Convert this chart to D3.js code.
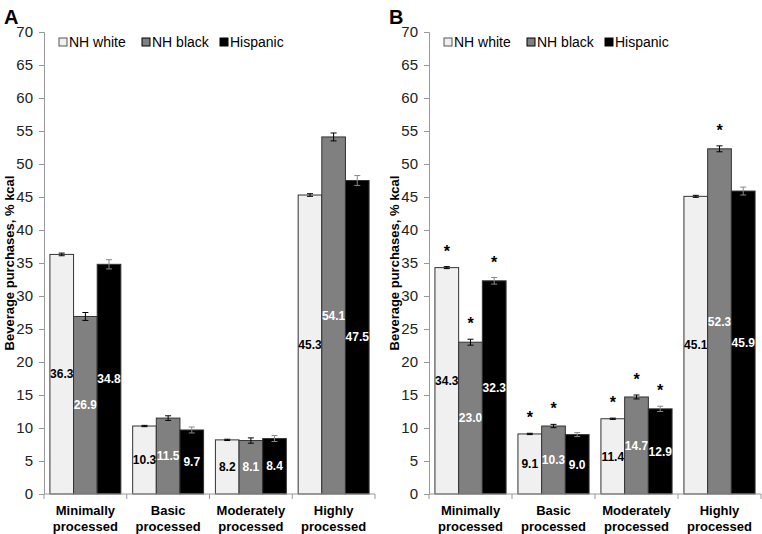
<!DOCTYPE html>
<html lang="en">
<head>
  <meta charset="utf-8">
  <title>Beverage purchases by processing level</title>
  <style>
    body {
      margin: 0;
      background: #fff;
    }
    text {
      font-family: "Liberation Sans", Arial, sans-serif;
    }
    .tick-label {
      font-size: 15px;
      fill: #222;
    }
    .cat-label {
      font-size: 13px;
      font-weight: bold;
    }
    .val {
      font-family: "Liberation Sans Narrow", "Arial Narrow", "Liberation Sans", sans-serif;
      font-size: 12px;
      font-weight: bold;
    }
  </style>
</head>
<body>
  <svg width="762" height="534"></svg>
  <script src="https://cdn.jsdelivr.net/npm/d3@7"></script>
  <script>

  // data
  var categories = [["Minimally", "processed"], ["Basic", "processed"], ["Moderately", "processed"], ["Highly", "processed"]];
  var series = ["NH white", "NH black", "Hispanic"];
  var yTicks = [0, 5, 10, 15, 20, 25, 30, 35, 40, 45, 50, 55, 60, 65, 70];

  // panel A: unadjusted
  var valuesA = [[36.3, 26.9, 34.8], [10.3, 11.5, 9.7], [8.2, 8.1, 8.4], [45.3, 54.1, 47.5]];
  var errorsA = [[0.2, 0.6, 0.7], [0.1, 0.35, 0.45], [0.1, 0.4, 0.45], [0.2, 0.6, 0.75]];
  var starsA = [[0, 0, 0], [0, 0, 0], [0, 0, 0], [0, 0, 0]];

  // panel B: adjusted
  var valuesB = [[34.3, 23.0, 32.3], [9.1, 10.3, 9.0], [11.4, 14.7, 12.9], [45.1, 52.3, 45.9]];
  var errorsB = [[0.15, 0.45, 0.5], [0.1, 0.25, 0.3], [0.1, 0.3, 0.4], [0.15, 0.45, 0.6]];
  var starsB = [[1, 1, 1], [1, 1, 0], [1, 1, 1], [0, 1, 0]];

  var fills = ["#f0f0f0", "#808080", "#000000"];
  var labelColors = ["#000", "#fff", "#fff"];

  var svg = d3.select("svg");

  function panel(letter, x0, x1, values, errors, stars) {
    var g = svg.append("g");

    var y = d3.scaleLinear().domain([0, 70]).range([494, 32]);
    var x = d3.scaleBand().domain(d3.range(categories.length)).range([x0, x1]).padding(0);
    var xs = d3.scaleBand().domain(d3.range(series.length)).range([0, x.bandwidth()])
        .paddingInner(0).paddingOuter(0.25);

    // panel letter
    g.append("text")
        .attr("x", x0 - 40)
        .attr("y", 24)
        .style("font-size", "20px")
        .style("font-weight", "bold")
        .text(letter);

    // y axis
    var yAxis = g.append("g")
        .attr("transform", "translate(" + x0 + ",0)")
        .call(d3.axisLeft(y).tickValues(yTicks).tickSize(5).tickPadding(6));
    yAxis.select(".domain").attr("stroke", "#999");
    yAxis.selectAll(".tick line").attr("stroke", "#999");
    yAxis.selectAll(".tick text").attr("class", "tick-label").attr("font-family", null).attr("font-size", null);

    // y title
    g.append("text")
        .attr("transform", "translate(" + (x0 - 30) + "," + y(35) + ") rotate(-90)")
        .attr("text-anchor", "middle")
        .style("font-size", "13px")
        .style("font-weight", "bold")
        .text("Beverage purchases, % kcal");

    // bars
    var groups = g.selectAll(".cat")
      .data(values)
      .enter().append("g")
        .attr("transform", function(d, i) { return "translate(" + x(i) + ",0)"; });

    groups.each(function(vals, ci) {
      var cg = d3.select(this);
      vals.forEach(function(v, si) {
        var bx = xs(si), bw = xs.bandwidth();
        cg.append("rect")
            .attr("x", bx)
            .attr("y", y(v))
            .attr("width", bw)
            .attr("height", y(0) - y(v))
            .attr("fill", fills[si])
            .attr("stroke", "#333")
            .attr("stroke-width", 1);

        // error bar
        var e = errors[ci][si];
        var cx = bx + bw / 2;
        var ec = si === 2 ? "#888" : "#000";
        cg.append("line")
            .attr("x1", cx).attr("x2", cx)
            .attr("y1", y(v - e)).attr("y2", y(v + e))
            .attr("stroke", ec);
        [v - e, v + e].forEach(function(t) {
          cg.append("line")
              .attr("x1", cx - 3).attr("x2", cx + 3)
              .attr("y1", y(t)).attr("y2", y(t))
              .attr("stroke", ec);
        });

        // value label
        cg.append("text")
            .attr("class", "val")
            .attr("x", cx)
            .attr("y", y(v / 2))
            .attr("dy", "0.35em")
            .attr("text-anchor", "middle")
            .attr("fill", labelColors[si])
            .text(v.toFixed(1));

        // significance star
        if (stars[ci][si]) {
          cg.append("text")
              .attr("x", cx)
              .attr("y", y(v + e) - 10)
              .attr("text-anchor", "middle")
              .style("font-size", "16px")
              .style("font-weight", "bold")
              .text("*");
        }
      });
    });

    // x axis
    g.append("line")
        .attr("x1", x0).attr("x2", x1)
        .attr("y1", y(0)).attr("y2", y(0))
        .attr("stroke", "#999");
    g.selectAll(".xtick")
      .data(d3.range(categories.length + 1))
      .enter().append("line")
        .attr("x1", function(i) { return x0 + i * x.step(); })
        .attr("x2", function(i) { return x0 + i * x.step(); })
        .attr("y1", y(0)).attr("y2", y(0) + 5)
        .attr("stroke", "#999");

    categories.forEach(function(lines, ci) {
      lines.forEach(function(t, li) {
        g.append("text")
            .attr("class", "cat-label")
            .attr("x", x(ci) + x.bandwidth() / 2)
            .attr("y", 515 + li * 16)
            .attr("text-anchor", "middle")
            .text(t);
      });
    });

    // legend
    var lx = [x0 + 15, x0 + 98, x0 + 176];
    series.forEach(function(s, si) {
      g.append("rect")
          .attr("x", lx[si])
          .attr("y", 38)
          .attr("width", 8)
          .attr("height", 8)
          .attr("fill", fills[si])
          .attr("stroke", si === 0 ? "#555" : "#000");
      g.append("text")
          .attr("x", lx[si] + 10)
          .attr("y", 47)
          .style("font-size", "14px")
          .text(s);
    });
  }

  panel("A", 44, 375, valuesA, errorsA, starsA);
  panel("B", 429, 761, valuesB, errorsB, starsB);

  </script>
</body>
</html>
